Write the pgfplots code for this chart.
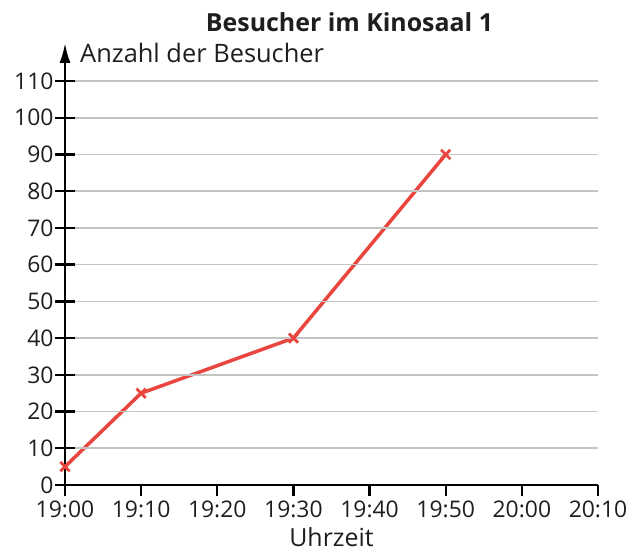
\documentclass[border=0pt]{standalone}
\usepackage{pgfplots}
\pgfplotsset{compat=1.18}
\usetikzlibrary{arrows.meta}
\usepackage{fontspec}
\setmainfont{Open Sans}
\definecolor{linered}{HTML}{E8463F}
\definecolor{gridgray}{HTML}{C4C4C4}
\definecolor{txt}{HTML}{1E1E1E}
\begin{document}
\begin{tikzpicture}
\useasboundingbox (-65bp,-67bp) rectangle (567bp,485bp);
\begin{axis}[
  axis on top,
  at={(0,0)}, anchor=south west,
  scale only axis,
  width=533bp, height=442bp,
  xmin=0, xmax=70, ymin=0, ymax=120.35,
  clip=false,
  axis lines=left,
  axis line style={line width=2.4bp, black},
  x axis line style={-},
  y axis line style={-{Latex[length=20bp,width=11bp]}},
  xtick=\empty,
  extra x ticks={0,10,...,70},
  extra x tick labels={19:00,19:10,19:20,19:30,19:40,19:50,20:00,20:10},
  extra x tick style={major tick length=11bp, tick align=outside, grid=none},
  ytick={0,10,...,110},
  ymajorgrids,
  grid style={gridgray, line width=1.7bp},
  major tick length=20bp,
  every tick/.append style={line width=2.4bp, black},
  ytick align=center,
  tick label style={font=\fontsize{23}{25}\selectfont, text=txt},
  /pgf/number format/assume math mode=true,
  yticklabel style={xshift=2bp},
  xticklabel style={yshift=-1bp},
  xlabel={Uhrzeit},
  xlabel style={font=\fontsize{25}{27}\selectfont, text=txt, inner sep=0pt, at={(axis description cs:0.5,0)}, anchor=base, yshift=-61bp},
]
\addplot[linered, line width=3.5bp, mark=x, mark size=6.5bp, mark options={line width=2.8bp}]
  coordinates {(0,5) (10,25) (30,40) (50,90)};
\node[anchor=base west, font=\fontsize{25.5}{27}\selectfont, text=txt, inner sep=0pt] at (15bp,422bp) {Anzahl der Besucher};
\node[anchor=base, font=\bfseries\fontsize{25}{27}\selectfont, text=txt, inner sep=0pt] at (284.5bp,453bp) {Besucher im Kinosaal 1};
\end{axis}
\end{tikzpicture}
\end{document}
